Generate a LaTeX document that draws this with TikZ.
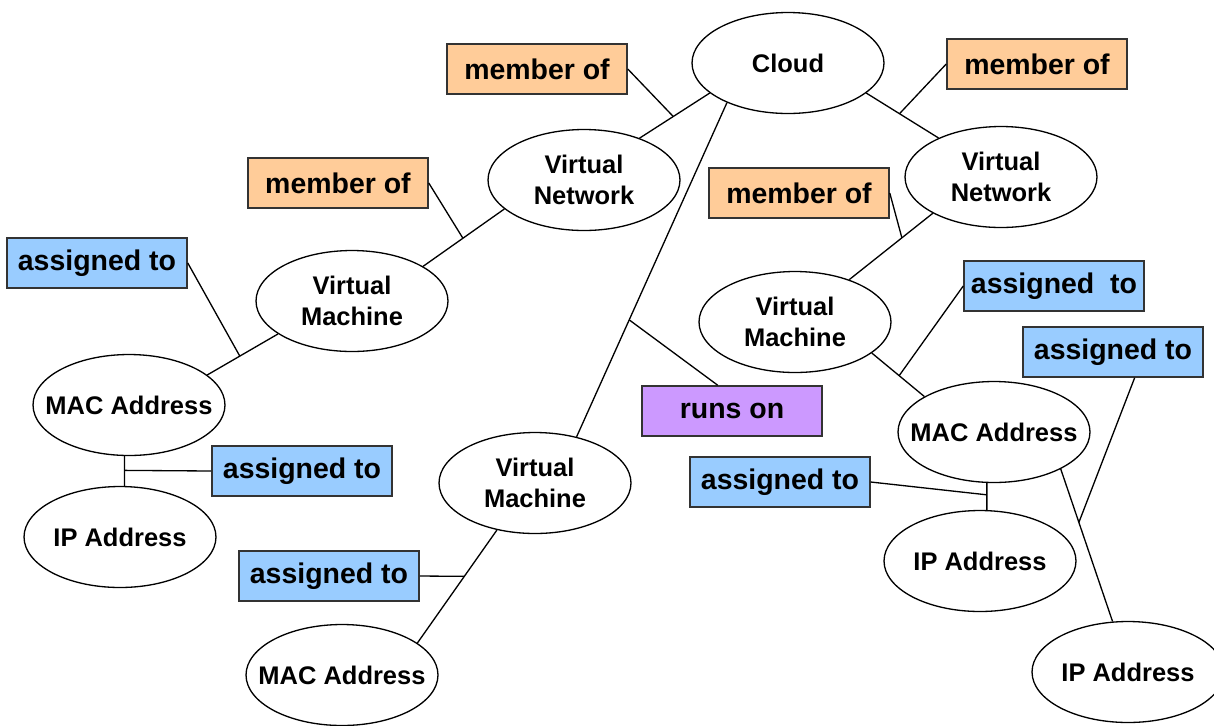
\documentclass[tikz,border=0pt]{standalone}
\usepackage{fontspec}
\setmainfont{Liberation Sans}
\usepackage{tikz}
\usetikzlibrary{shapes.geometric}
\definecolor{naranja}{HTML}{FFCC99}
\definecolor{celeste}{HTML}{99CCFF}
\definecolor{lila}{HTML}{CC99FF}
\tikzset{
	linea/.style={line width=0.75pt}, % Grosor de las lineas
	entidad/.style={ellipse, draw, line width=0.75pt, minimum width=3.84cm, minimum height=2.02cm, inner xsep=-0.4cm, inner ysep=0pt, align=center, font=\bfseries\fontsize{14.5}{17.6}\selectfont}, % Elipses de las entidades
	relacion/.style={rectangle, draw=black!80, line width=0.9pt, minimum width=3.6cm, minimum height=1cm, inner sep=0pt, font=\bfseries\fontsize{16.2}{19}\selectfont}, % Cajas de las relaciones
	miembro/.style={relacion, fill=naranja}, % member of
	asignado/.style={relacion, fill=celeste}, % assigned to
	corre/.style={relacion, fill=lila} % runs on
}

\begin{document}
\begin{tikzpicture}[x=0.02cm, y=-0.02cm]
	\useasboundingbox (0,0) rectangle (1214,725);
	
	\node[entidad] (c0) at (788,63) {Cloud};
	
	\node[entidad] (n0) at (584,180) {Virtual\\Network};
	\node[entidad] (n1) at (1001,177) {Virtual\\Network};
	
	\node[entidad] (m0) at (352,301) {Virtual\\Machine};
	\node[entidad] (m1) at (795,322) {Virtual\\Machine};
	\node[entidad] (m2) at (535,483) {Virtual\\Machine};
	
	\node[entidad] (a0) at (129,405) {MAC Address};
	\node[entidad] (a1) at (994,432) {MAC Address};
	\node[entidad] (a2) at (342,675) {MAC Address};
	
	\node[entidad] (i0) at (120,537) {IP Address};
	\node[entidad] (i1) at (980,561) {IP Address};
	\node[entidad] (i2) at (1128,672) {IP Address};
	
	\node[miembro] (mo0) at (537,69) {member of};
	\node[miembro] (mo1) at (1037,64) {member of};
	\node[miembro] (mo2) at (338,183) {member of};
	\node[miembro] (mo3) at (799,193) {member of};
	
	\node[asignado] (as0) at (97,263) {assigned to};
	\node[asignado] (as1) at (1054,286) {assigned\ \ to};
	\node[asignado] (as2) at (1113,352) {assigned to};
	\node[asignado] (as3) at (302,471) {assigned to};
	\node[asignado] (as4) at (780,482) {assigned to};
	\node[asignado] (as5) at (329,576) {assigned to};
	
	\node[corre] (ro0) at (732,411) {runs on};
	
	\draw[linea]	(c0.201) -- coordinate[pos=0.52] (j0) (n0.37)
			(c0.339) -- coordinate[pos=0.46] (j1) (n1.148)
			(c0.213) -- coordinate[pos=0.65] (j2) (m2.48)
			(n0.200) -- coordinate[pos=0.51] (j3) (m0.26)
			(n1.208) -- coordinate[pos=0.37] (j4) (m1.38)
			(m0.204) -- coordinate[pos=0.54] (j5) (a0.21)
			(m1.338) -- coordinate[pos=0.52] (j6) (a1.153)
			(m2.231) -- coordinate[pos=0.41] (j7) (a2.23)
			(a0.265) -- coordinate[pos=0.48] (j8) (a0.265 |- i0.north)
			(a1.262) -- coordinate[pos=0.44] (j9) (a1.262 |- i1.north)
			(a1.331) -- coordinate[pos=0.35] (j10) (i2.107);
	
	\draw[linea]	(mo0.east) -- (j0)
			(mo1.west) -- (j1)
			(ro0.119) -- (j2)
			(mo2.east) -- (j3)
			(mo3.east) -- (j4)
			(as0.east) -- (j5)
			(as1.west) -- (j6)
			(as5.east) -- (j7)
			(as3.west) -- (j8)
			(as4.east) -- (j9)
			(as2.310) -- (j10);
\end{tikzpicture}
\end{document}
